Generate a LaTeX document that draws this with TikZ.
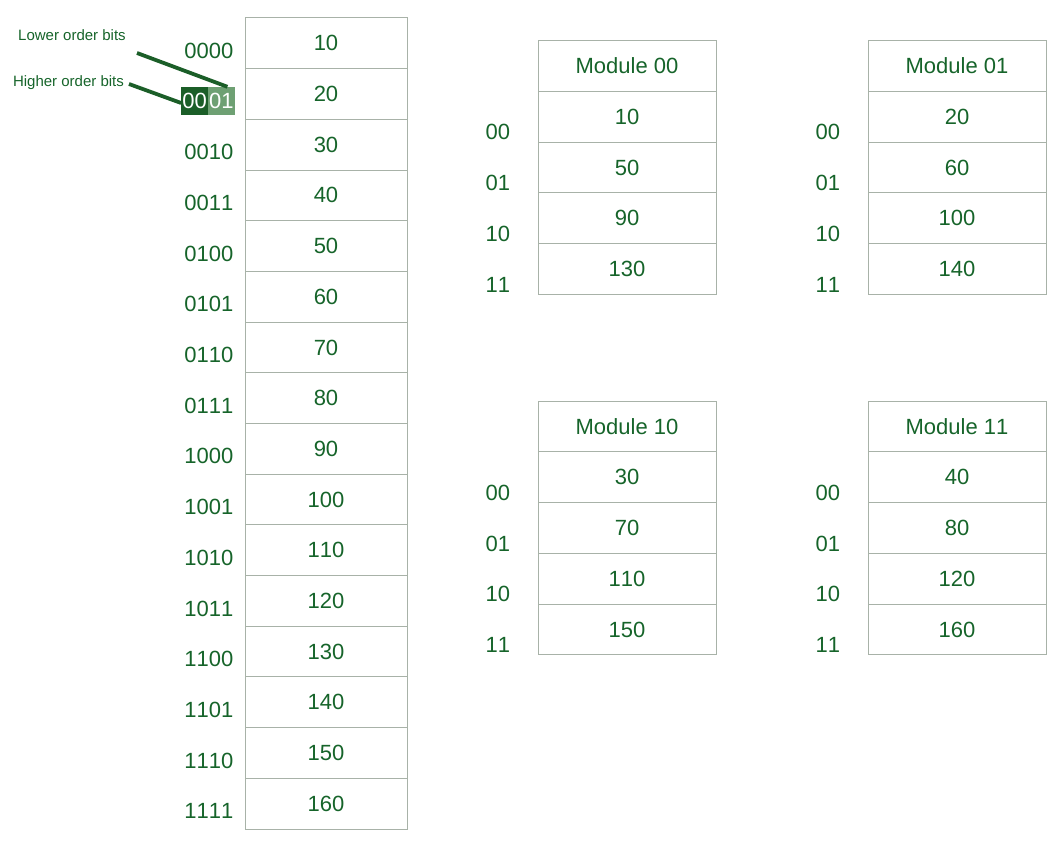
\documentclass[tikz,border=0pt]{standalone}
\usepackage{fontspec}
\setmainfont{Liberation Sans}[Kerning=Off]
\usetikzlibrary{positioning}
\definecolor{txtgreen}{RGB}{22,100,42}
\definecolor{darkbits}{RGB}{27,94,40}
\definecolor{lightbits}{RGB}{110,160,115}
\definecolor{cellgray}{RGB}{168,178,168}
\begin{document}
\begin{tikzpicture}[x=1pt, y=-1pt, font=\fontsize{22}{26}\selectfont, text=txtgreen,
  cell/.style = {draw=cellgray, line width=1pt, minimum width=162pt, minimum height=50.7pt, inner sep=0pt},
  modcell/.style = {draw=cellgray, line width=1pt, minimum width=178pt, minimum height=50.75pt, inner sep=0pt},
  addr/.style = {anchor=east, inner sep=0pt},
  side/.style = {anchor=west, inner sep=0pt},
  bits/.style = {text=white, minimum height=28pt, inner xsep=1pt, inner ysep=0pt},
  note/.style = {font=\fontsize{15}{18}\selectfont, inner sep=0pt},
  pointer/.style = {draw=darkbits, line width=3.8pt}]
\useasboundingbox (0,0) rectangle (1063,848);

% main memory
\foreach \v/\a [count=\i] in {10/0000,20/0001,30/0010,40/0011,50/0100,60/0101,70/0110,80/0111,
                              90/1000,100/1001,110/1010,120/1011,130/1100,140/1101,150/1110,160/1111} {
  \node[cell] (m\i) at (326, {18+50.69*(\i-0.5)}) {\v};
  \ifnum\i=2 \else
    \node[addr] (a\i) at ([xshift=-11pt, yshift=-7.5pt]m\i.west) {\a};
  \fi
}

% split address 0001
\node[bits, fill=darkbits, anchor=east] (hi) at (208, 101) {00};
\node[bits, fill=lightbits, right=0pt of hi] (lo) {01};

\node[note] (lowtxt) at (72, 35) {Lower order bits};
\node[note] (hightxt) at (68.5, 83) {Higher order bits};
\coordinate (lostart) at (137, 53);
\coordinate (histart) at (129, 84);
\draw[pointer] (lostart) -- ([xshift=6pt]lo.north);
\draw[pointer] (histart) -- ([yshift=-2pt]hi.west);

% modules
\foreach \mname/\mx/\my/\vals in {00/627/66/{10/00,50/01,90/10,130/11},
                                  01/957/66/{20/00,60/01,100/10,140/11},
                                  10/627/426.5/{30/00,70/01,110/10,150/11},
                                  11/957/426.5/{40/00,80/01,120/10,160/11}} {
  \node[modcell] (mod\mname) at (\mx, \my) {Module \mname};
  \foreach \v/\s [count=\j] in \vals {
    \node[modcell] (mod\mname-\j) at (\mx, {\my+50.75*\j}) {\v};
    \node[side] (s\mname-\j) at ([xshift=-52pt, yshift=-15.5pt]mod\mname-\j.west) {\s};
  }
}
\end{tikzpicture}
\end{document}
